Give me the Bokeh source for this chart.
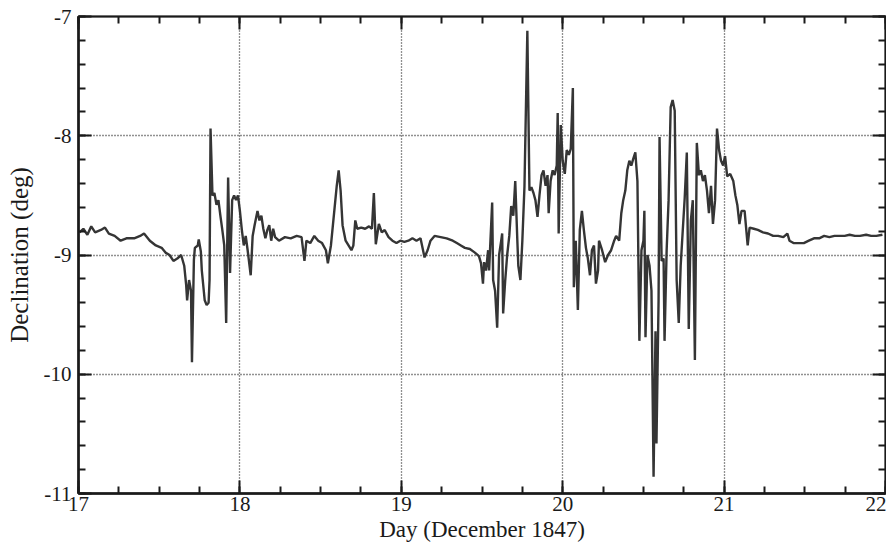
from bokeh.plotting import figure
from bokeh.models import (LinearAxis, SingleIntervalTicker, Range1d, ColumnDataSource,
                          CustomJSTickFormatter)
from bokeh.embed import file_html
from bokeh.resources import INLINE

# ---- data: magnetic declination, 17-22 December 1847 ----
t17 = [17.006, 17.030, 17.055, 17.079, 17.103, 17.139, 17.164, 17.188, 17.224, 17.261,
       17.297, 17.345, 17.382, 17.406, 17.442, 17.479, 17.515, 17.539, 17.564, 17.588,
       17.612, 17.636, 17.655, 17.667, 17.673, 17.685, 17.697, 17.703, 17.715, 17.721,
       17.739, 17.745, 17.758, 17.764, 17.782, 17.794, 17.806, 17.812, 17.818, 17.830,
       17.842, 17.855, 17.867, 17.879, 17.891, 17.903, 17.915, 17.927, 17.939, 17.952,
       17.964, 17.976, 17.988, 18.000]
v17 = [-8.81, -8.78, -8.83, -8.76, -8.81, -8.79, -8.77, -8.82, -8.84, -8.88,
       -8.86, -8.86, -8.84, -8.82, -8.88, -8.92, -8.94, -8.98, -9.00, -9.05,
       -9.03, -9.00, -9.09, -9.25, -9.38, -9.21, -9.30, -9.90, -9.04, -8.94,
       -8.92, -8.87, -8.97, -9.13, -9.38, -9.42, -9.40, -9.21, -7.94, -8.50,
       -8.48, -8.58, -8.54, -8.67, -8.79, -8.92, -9.57, -8.35, -9.15, -8.54,
       -8.50, -8.54, -8.50, -8.63]

t18 = [18.012, 18.024, 18.036, 18.048, 18.067, 18.079, 18.091, 18.109, 18.121, 18.133,
       18.145, 18.158, 18.170, 18.182, 18.194, 18.206, 18.218, 18.242, 18.279, 18.315,
       18.352, 18.382, 18.400, 18.412, 18.436, 18.461, 18.485, 18.509, 18.533, 18.545,
       18.564, 18.582, 18.600, 18.612, 18.624, 18.636, 18.655, 18.673, 18.691, 18.703,
       18.715, 18.727, 18.752, 18.776, 18.800, 18.818, 18.830, 18.842, 18.861, 18.879,
       18.897, 18.921, 18.945, 18.970, 18.994]
v18 = [-8.79, -8.92, -8.84, -8.96, -9.17, -8.84, -8.75, -8.63, -8.71, -8.67,
       -8.78, -8.86, -8.79, -8.75, -8.88, -8.78, -8.85, -8.88, -8.85, -8.86,
       -8.84, -8.85, -9.05, -8.88, -8.90, -8.84, -8.88, -8.90, -8.96, -9.07,
       -8.92, -8.67, -8.42, -8.29, -8.46, -8.75, -8.88, -8.92, -8.96, -8.92,
       -8.71, -8.78, -8.77, -8.78, -8.76, -8.78, -8.48, -8.91, -8.74, -8.81,
       -8.79, -8.85, -8.88, -8.90, -8.88]

t19 = [19.019, 19.044, 19.069, 19.094, 19.119, 19.144, 19.163, 19.181, 19.206, 19.244,
       19.281, 19.319, 19.344, 19.369, 19.394, 19.425, 19.456, 19.481, 19.494, 19.506,
       19.513, 19.525, 19.538, 19.544, 19.563, 19.569, 19.581, 19.594, 19.606, 19.619,
       19.625, 19.631, 19.644, 19.656, 19.669, 19.681, 19.694, 19.706, 19.719, 19.725,
       19.738, 19.750, 19.763, 19.781, 19.794, 19.806, 19.819, 19.831, 19.844, 19.856,
       19.869, 19.881, 19.894, 19.906, 19.913, 19.925, 19.938, 19.950, 19.963, 19.969,
       19.975, 19.988]
v19 = [-8.89, -8.88, -8.86, -8.88, -8.86, -9.02, -8.96, -8.88, -8.84, -8.85,
       -8.86, -8.88, -8.90, -8.92, -8.94, -8.95, -8.98, -9.01, -9.07, -9.24,
       -9.06, -9.13, -8.96, -9.13, -8.56, -9.21, -9.30, -9.61, -9.00, -8.88,
       -8.82, -9.49, -9.21, -9.00, -8.84, -8.59, -8.67, -8.38, -8.88, -9.09,
       -9.21, -8.88, -8.43, -7.12, -8.46, -8.43, -8.48, -8.54, -8.68, -8.50,
       -8.33, -8.29, -8.42, -8.33, -8.65, -8.38, -8.29, -8.33, -8.25, -7.81,
       -8.82, -7.91]

t20 = [20.000, 20.013, 20.025, 20.038, 20.050, 20.063, 20.069, 20.081, 20.094, 20.106,
       20.119, 20.131, 20.144, 20.156, 20.169, 20.181, 20.194, 20.206, 20.219, 20.225,
       20.244, 20.263, 20.281, 20.300, 20.319, 20.331, 20.350, 20.363, 20.375, 20.388,
       20.400, 20.413, 20.425, 20.438, 20.450, 20.463, 20.475, 20.488, 20.500, 20.506,
       20.513, 20.525, 20.538, 20.550, 20.563, 20.575, 20.581, 20.594, 20.600, 20.613,
       20.625, 20.631, 20.644, 20.656, 20.669, 20.681, 20.694, 20.706, 20.719, 20.731,
       20.744, 20.756, 20.769, 20.781, 20.794, 20.806, 20.819, 20.831, 20.844, 20.856,
       20.869, 20.881, 20.894, 20.906, 20.919, 20.931, 20.944, 20.956, 20.969, 20.981,
       20.994]
v20 = [-8.21, -8.32, -8.12, -8.16, -8.11, -7.60, -9.27, -8.88, -9.46, -8.79,
       -8.63, -8.79, -8.94, -9.03, -9.17, -8.96, -8.92, -9.24, -9.13, -8.88,
       -8.96, -9.06, -9.00, -8.96, -8.88, -8.84, -8.88, -8.65, -8.54, -8.46,
       -8.29, -8.21, -8.25, -8.19, -8.14, -8.38, -9.72, -8.96, -8.88, -8.63,
       -9.69, -9.00, -9.09, -9.30, -10.86, -9.64, -10.58, -9.38, -8.01, -9.05,
       -9.03, -9.72, -8.96, -8.54, -7.76, -7.70, -7.79, -9.21, -9.57, -9.09,
       -8.79, -8.52, -8.14, -9.62, -8.71, -8.54, -9.88, -8.06, -8.33, -8.29,
       -8.38, -8.33, -8.46, -8.65, -8.42, -8.74, -8.54, -7.94, -8.12, -8.21,
       -8.25]

t21 = [21.006, 21.019, 21.038, 21.057, 21.070, 21.082, 21.095, 21.108, 21.127, 21.146,
       21.158, 21.184, 21.209, 21.241, 21.272, 21.304, 21.335, 21.367, 21.392, 21.405,
       21.430, 21.462, 21.494, 21.525, 21.557, 21.589, 21.620, 21.652, 21.684, 21.715,
       21.747, 21.778, 21.810, 21.842, 21.880, 21.911, 21.943, 21.981]
v21 = [-8.17, -8.34, -8.32, -8.38, -8.50, -8.58, -8.74, -8.63, -8.63, -8.92,
       -8.77, -8.78, -8.79, -8.81, -8.82, -8.84, -8.84, -8.85, -8.82, -8.88,
       -8.90, -8.90, -8.90, -8.88, -8.86, -8.86, -8.84, -8.85, -8.84, -8.84,
       -8.84, -8.83, -8.84, -8.84, -8.83, -8.84, -8.84, -8.83]

x_start, x_end = 17, 22
y_start, y_end = -11, -7
y_tick_values = [-11, -10, -9, -8, -7]
y_tick_labels = ["-11", "-10", "-9", "-8", "-7"]
x_label = "Day (December 1847)"
y_label = "Declination (deg)"

days = t17 + t18 + t19 + t20 + t21
decl = v17 + v18 + v19 + v20 + v21
assert len(days) == len(decl)

src = ColumnDataSource(data=dict(day=days, decl=decl))

FONT = "Liberation Serif"
INK = "#1a1a1a"

p = figure(width=886, height=554, output_backend="svg", toolbar_location=None,
           x_range=Range1d(x_start, x_end), y_range=Range1d(y_start, y_end),
           min_border_left=78, min_border_right=1, min_border_top=16,
           min_border_bottom=61, background_fill_color="white",
           border_fill_color="white")

p.line("day", "decl", source=src, line_color="#353535", line_width=2.4)

p.outline_line_color = INK
p.outline_line_width = 2

bottom = p.below[0]
left = p.left[0]

xt = SingleIntervalTicker(interval=1, num_minor_ticks=4)
yt = SingleIntervalTicker(interval=1, num_minor_ticks=5)
bottom.ticker = xt
left.ticker = yt
left.major_label_overrides = {v: s for v, s in zip(y_tick_values, y_tick_labels)}

for g in (p.xgrid, p.ygrid):
    g.grid_line_color = "#222222"
    g.grid_line_dash = "1 2"
    g.grid_line_width = 1.3

blank = CustomJSTickFormatter(code="return ''")
top = LinearAxis(ticker=xt, formatter=blank)
right = LinearAxis(ticker=yt, formatter=blank)
p.add_layout(top, "above")
p.add_layout(right, "right")

for ax in (bottom, left, top, right):
    ax.major_tick_in = 13
    ax.major_tick_out = 0
    ax.minor_tick_in = 7
    ax.minor_tick_out = 0
    ax.major_tick_line_width = 2
    ax.minor_tick_line_width = 2
    ax.major_tick_line_color = INK
    ax.minor_tick_line_color = INK
    ax.axis_line_color = INK
    ax.axis_line_width = 2.5
    ax.major_label_text_font = FONT
    ax.major_label_text_font_size = "21px"
    ax.major_label_text_color = INK

for ax in (top, right):
    ax.major_label_standoff = 0
    ax.axis_line_width = 1.5

bottom.major_label_standoff = 3
left.major_label_standoff = 7
bottom.axis_label = x_label
left.axis_label = y_label
for ax in (bottom, left):
    ax.axis_label_text_font = FONT
    ax.axis_label_text_font_style = "normal"
    ax.axis_label_text_color = INK
bottom.axis_label_text_font_size = "23px"
left.axis_label_text_font_size = "25px"
bottom.axis_label_standoff = 3
left.axis_label_standoff = 8

open("out.html", "w").write(file_html(p, INLINE))
